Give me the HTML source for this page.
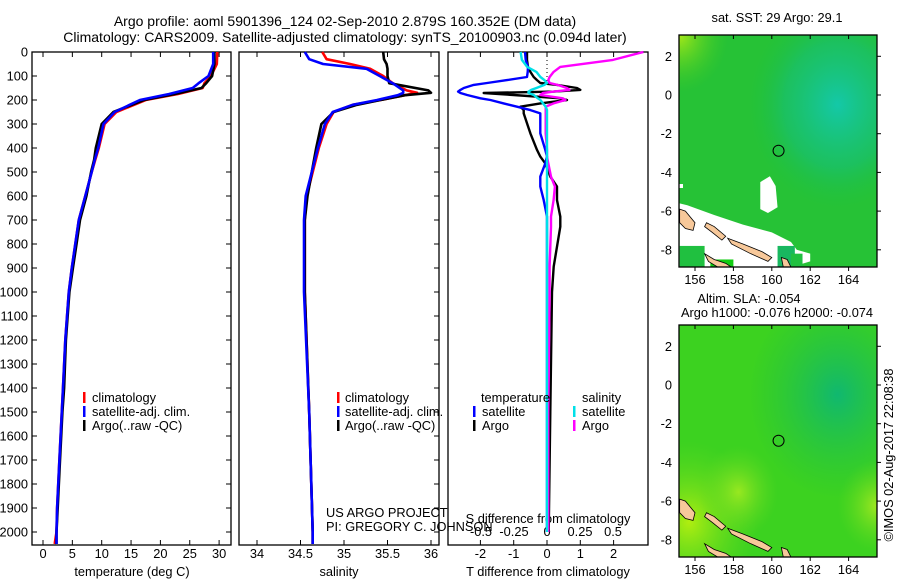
<!DOCTYPE html>
<html><head><meta charset="utf-8"><style>
body{margin:0;background:#fff;}
svg{display:block;font-family:"Liberation Sans",sans-serif;}
text{font-size:12.8px;fill:#000;}
</style></head><body>
<svg id="fig" width="900" height="580" viewBox="0 0 900 580">
<defs>
<radialGradient id="teal1" cx="0.8" cy="0.3" r="0.45"><stop offset="0" stop-color="#14c8a8"/><stop offset="0.6" stop-color="#18c070" stop-opacity="0.7"/><stop offset="1" stop-color="#1cc040" stop-opacity="0"/></radialGradient>
<radialGradient id="yel1" cx="0" cy="0" r="0.25"><stop offset="0" stop-color="#a8e818"/><stop offset="1" stop-color="#40cc20" stop-opacity="0"/></radialGradient>
<radialGradient id="teal2" cx="0.8" cy="0.3" r="0.45"><stop offset="0" stop-color="#10b870"/><stop offset="1" stop-color="#20c040" stop-opacity="0"/></radialGradient>
<radialGradient id="yel2" cx="0.05" cy="0.85" r="0.35"><stop offset="0" stop-color="#b0ee10"/><stop offset="1" stop-color="#60d820" stop-opacity="0"/></radialGradient>
<radialGradient id="yel3" cx="0.3" cy="0.72" r="0.2"><stop offset="0" stop-color="#98e820"/><stop offset="1" stop-color="#60d820" stop-opacity="0"/></radialGradient>
<radialGradient id="yel4" cx="1" cy="0.78" r="0.2"><stop offset="0" stop-color="#a0e820"/><stop offset="1" stop-color="#60d820" stop-opacity="0"/></radialGradient>
</defs>
<text x="345" y="26" text-anchor="middle" style="font-size:14px">Argo profile: aoml 5901396_124 02-Sep-2010 2.879S 160.352E (DM data)</text>
<text x="345" y="42" text-anchor="middle" style="font-size:14px">Climatology: CARS2009. Satellite-adjusted climatology: synTS_20100903.nc (0.094d later)</text>
<g id="plots"></g>
<g id="maps"></g>
</svg>
<script>
// ---- data ----
const depthTicks=[0,100,200,300,400,500,600,700,800,900,1000,1100,1200,1300,1400,1500,1600,1700,1800,1900,2000];
const tempTicks=[0,5,10,15,20,25,30];
const salTicks=[34,34.5,35,35.5,36];
const tdTicks=[-2,-1,0,1,2];
const sdTicks=[-0.5,-0.25,0,0.25,0.5];
const tDepth=[0,50,100,130,150,175,200,250,300,400,450,500,600,700,800,900,1000,1200,1400,1500,1700,1900,2000,2050];
const tClim=[29.7,29.6,28.6,27.5,27.2,23,17.5,12.5,10.5,9.5,8.9,8.3,7.2,6.1,5.5,4.9,4.4,3.8,3.4,3.2,2.8,2.4,2.3,2.0];
const tSat=[29.0,29.0,28.2,26.5,25.5,21.5,16.5,12.2,10.3,9.4,8.8,8.3,7.2,6.1,5.5,4.9,4.4,3.8,3.4,3.2,2.8,2.4,2.3,2.3];
const tArgo=[29.2,29.2,28.8,27.8,27.0,22.5,17.2,12.0,10.0,9.0,8.7,8.2,7.4,6.3,5.7,5.1,4.5,3.9,3.6,3.3,2.9,2.5,2.3,2.3];
const sDepth=[0,30,50,70,100,130,160,170,180,200,220,250,300,400,500,600,700,1000,1500,2000,2050];
const sClim=[34.75,34.8,35.07,35.3,35.45,35.56,35.72,35.84,35.7,35.42,35.1,34.88,34.8,34.71,34.64,34.57,34.55,34.55,34.6,34.64,34.64];
const sSat=[34.55,34.6,34.76,35.26,35.41,35.56,35.68,35.68,35.62,35.38,35.1,34.87,34.78,34.7,34.63,34.56,34.54,34.54,34.6,34.64,34.64];
const sArgo=[35.45,35.46,35.49,35.5,35.5,35.52,35.97,36.0,35.7,35.42,35.15,34.88,34.74,34.68,34.63,34.58,34.55,34.55,34.6,34.64,34.64];
const dDepth=[0,33,62,83,104,117,129,137,150,158,165,171,179,193,200,214,228,242,256,339,408,436,464,519,561,617,686,728,894,1000,1500,2000];
const dTsat=[-0.66,-0.64,-0.57,-0.58,-0.6,-1.2,-1.8,-2.2,-2.5,-2.6,-2.67,-2.6,-2.4,-2.0,-1.7,-1.3,-0.9,-0.5,-0.2,-0.2,-0.05,0,-0.05,-0.2,-0.2,-0.1,0,0,0,0,0,0];
const dTargo=[-0.6,-0.6,-0.57,-0.5,-0.4,-0.3,-0.2,0.3,0.9,1.0,0.2,-1.9,-1.0,0.4,0.6,-0.2,-0.8,-0.7,-0.7,-0.5,-0.3,-0.2,-0.05,0.1,0.3,0.3,0.4,0.4,0.2,0.15,0.1,0.05];
const dSsat=[-0.2,-0.19,-0.15,-0.08,-0.05,-0.02,0,-0.02,-0.08,-0.12,-0.14,-0.14,-0.1,-0.07,-0.05,-0.03,-0.01,0,0,0,0,0,0,0,0,0,0,0,0,0,0,0];
const dSargo=[0.73,0.5,0.1,0.05,0.02,0.01,0.02,0.08,0.15,0.17,0.05,-0.03,-0.05,0.12,0.14,0.05,-0.01,-0.01,-0.01,-0.01,0,0,0.01,0.03,0.06,0.05,0.03,0.03,0.02,0.02,0.01,0.01];
const lonTicks=[156,158,160,162,164];
const latTicks=[2,0,-2,-4,-6,-8];
const argoLon=160.352, argoLat=-2.879;

// ---- helpers ----
const NS='http://www.w3.org/2000/svg';
const plots=document.getElementById('plots');
const maps=document.getElementById('maps');
function mk(tag,attrs,parent){const e=document.createElementNS(NS,tag);for(const k in attrs)e.setAttribute(k,attrs[k]);parent.appendChild(e);return e;}
const Y0=52,Y1=545;
const yD=d=>52+d*0.24;
const xT=t=>43+t*5.87;
const xS=s=>257+(s-34)*87;
const xTd=v=>547+v*33.3;
const xSd=v=>547+v*132;

function frame(x,w,name){
  const r=mk('rect',{x:x,y:Y0,width:w,height:Y1-Y0,fill:'none',stroke:'#000','stroke-width':1.3},plots);
  
  
}
function line(xs,ds,fx,color,name,w){
  let p='';
  for(let i=0;i<xs.length;i++)p+=(i?'L':'M')+fx(xs[i]).toFixed(1)+' '+yD(ds[i]).toFixed(1);
  const e=mk('path',{d:p,fill:'none',stroke:color,'stroke-width':w||2.6,'stroke-linejoin':'round'},plots);
  
  
}
function txt(x,y,s,parent,anchor,name,extra){
  const e=mk('text',Object.assign({x:x,y:y,'text-anchor':anchor||'start'},extra||{}),parent);
  e.textContent=s;
  
  
  return e;
}
function xticks(vals,fx,labels,yLab,name){
  vals.forEach((v,i)=>{
    const x=fx(v);
    mk('line',{x1:x,x2:x,y1:Y0,y2:Y0+5,stroke:'#000'},plots);
    mk('line',{x1:x,x2:x,y1:Y1,y2:Y1-5,stroke:'#000'},plots);
    txt(x,yLab,labels[i],plots,'middle',name);
  });
}

// panel 1
frame(32,199,'temperature-panel');
depthTicks.forEach(d=>{
  const y=yD(d);
  mk('line',{x1:32,x2:37,y1:y,y2:y,stroke:'#000'},plots);
  mk('line',{x1:231,x2:226,y1:y,y2:y,stroke:'#000'},plots);
  txt(28,y+4.5,String(d),plots,'end','depth-tick-label');
});
xticks(tempTicks,xT,tempTicks.map(String),558,'temperature-tick-label');
txt(132,576,'temperature (deg C)',plots,'middle','temperature-axis-title');
line(tClim,tDepth,xT,'#ff0000','temperature-climatology-line');
line(tArgo,tDepth,xT,'#000000','temperature-argo-line');
line(tSat,tDepth,xT,'#0000ff','temperature-satellite-line');

// panel 2
frame(239,200,'salinity-panel');
depthTicks.forEach(d=>{const y=yD(d);mk('line',{x1:439,x2:434,y1:y,y2:y,stroke:'#000'},plots);});
xticks(salTicks,xS,['34','34.5','35','35.5','36'],558,'salinity-tick-label');
txt(339,576,'salinity',plots,'middle','salinity-axis-title');
line(sClim,sDepth,xS,'#ff0000','salinity-climatology-line');
line(sArgo,sDepth,xS,'#000000','salinity-argo-line');
line(sSat,sDepth,xS,'#0000ff','salinity-satellite-line');

// panel 3
frame(448,200,'difference-panel');
mk('line',{x1:547,x2:547,y1:52,y2:yD(150),stroke:'#000','stroke-dasharray':'1 3'},plots);
xticks(tdTicks,xTd,tdTicks.map(String),558,'t-difference-tick-label');
sdTicks.forEach((v,i)=>txt(xSd(v),536,['-0.5','-0.25','0','0.25','0.5'][i],plots,'middle','s-difference-tick-label'));
txt(548,523,'S difference from climatology',plots,'middle','s-difference-axis-title');
txt(548,576,'T difference from climatology',plots,'middle','t-difference-axis-title');
line(dTargo,dDepth,xTd,'#000000','t-diff-argo-line',2.4);
line(dTsat,dDepth,xTd,'#0000ff','t-diff-satellite-line',2.4);
line(dSargo,dDepth,xSd,'#ff00ff','s-diff-argo-line',2.4);
line(dSsat,dDepth,xSd,'#00e0e8','s-diff-satellite-line',2.4);

// legends
function legEntry(mx,tx,y,color,label,name){
  const m=mk('rect',{x:mx,y:y-10,width:2.5,height:11,fill:color},plots);
  
  
  txt(tx,y,label,plots,'start',name);
}
[[83,92],[337,345]].forEach((p,k)=>{
  legEntry(p[0],p[1],402,'#ff0000','climatology','legend-climatology');
  legEntry(p[0],p[1],416,'#0000ff','satellite-adj. clim.','legend-satellite');
  legEntry(p[0],p[1],430,'#000000','Argo(..raw -QC)','legend-argo');
});
txt(481,402,'temperature',plots,'start','legend-temperature-heading');
txt(582,402,'salinity',plots,'start','legend-salinity-heading');
legEntry(473,482,416,'#0000ff','satellite','legend-t-satellite');
legEntry(473,482,430,'#000000','Argo','legend-t-argo');
legEntry(573,582,416,'#00e0e8','satellite','legend-s-satellite');
legEntry(573,582,430,'#ff00ff','Argo','legend-s-argo');
txt(326,517,'US ARGO PROJECT',plots,'start','project-credit');
txt(326,531,'PI: GREGORY C. JOHNSON',plots,'start','pi-credit');

// ---- maps ----
const MX0=679,MW=198,MH=232;
const mxLon=l=>695+(l-156)*19.2;
function drawMap(top,zeroY,kind,name){
  const myLat=a=>zeroY-a*19.35;
  const g=mk('g',{},maps);
  
  
  const cid='clip'+kind;
  const cp=mk('clipPath',{id:cid},g);mk('rect',{x:MX0,y:top,width:MW,height:MH},cp);
  const inner=mk('g',{'clip-path':'url(#'+cid+')'},g);
  if(kind==='sst'){
    mk('rect',{x:MX0,y:top,width:MW,height:MH,fill:'#26c236'},inner);
    mk('rect',{x:MX0,y:top,width:MW,height:MH,fill:'url(#teal1)'},inner);
    mk('rect',{x:MX0,y:top,width:MW,height:MH,fill:'url(#yel1)'},inner);
    const white=[[155.2,-5.6],[155.6,-5.7],[157,-6.2],[158.5,-6.7],[160,-7.1],[161,-7.6],[161.3,-8.0],[162,-8.2],[162,-8.6],[161,-8.9],[155.2,-8.9]];
    mk('polygon',{points:white.map(p=>mxLon(p[0])+','+myLat(p[1])).join(' '),fill:'#fff'},inner);
    mk('rect',{x:MX0,y:myLat(-4.6),width:4,height:4,fill:'#fff'},inner);
    const wp=[[159.4,-4.5],[159.9,-4.2],[160.2,-4.7],[160.3,-5.8],[159.8,-6.1],[159.4,-5.9]];
    mk('polygon',{points:wp.map(p=>mxLon(p[0])+','+myLat(p[1])).join(' '),fill:'#fff'},inner);
    [[155.2,-7.8,1.3,1.2,'#20c040'],[156.8,-8.5,1.2,0.5,'#12cc12'],[160.3,-7.8,0.9,1.2,'#18b860'],[161,-8.2,0.6,0.7,'#20c040']].forEach(r=>{
      mk('rect',{x:mxLon(r[0]),y:myLat(r[1]),width:r[2]*19.2,height:r[3]*19.35,fill:r[4]},inner);
    });
  } else {
    mk('rect',{x:MX0,y:top,width:MW,height:MH,fill:'#3cd220'},inner);
    mk('rect',{x:MX0,y:top,width:MW,height:MH,fill:'url(#teal2)'},inner);
    mk('rect',{x:MX0,y:top,width:MW,height:MH,fill:'url(#yel2)'},inner);
    mk('rect',{x:MX0,y:top,width:MW,height:MH,fill:'url(#yel3)'},inner);
    mk('rect',{x:MX0,y:top,width:MW,height:MH,fill:'url(#yel4)'},inner);
  }
  const lands=[
    [[155.2,-5.9],[155.5,-6.0],[156.0,-6.6],[155.9,-7.0],[155.5,-6.9],[155.2,-6.6]],
    [[156.6,-6.6],[157.0,-6.8],[157.6,-7.3],[157.4,-7.5],[156.9,-7.1],[156.5,-6.8]],
    [[157.7,-7.4],[158.5,-7.7],[159.5,-8.1],[160.0,-8.4],[159.8,-8.6],[158.9,-8.2],[157.9,-7.7]],
    [[160.5,-8.4],[160.8,-8.5],[161.0,-8.9],[160.6,-8.9]],
    [[156.5,-8.2],[157.0,-8.5],[157.6,-8.7],[157.9,-8.9],[157.2,-8.9],[156.7,-8.6]]
  ];
  lands.forEach(l=>{
    const e=mk('polygon',{points:l.map(p=>mxLon(p[0])+','+myLat(p[1])).join(' '),fill:'#f7c89a',stroke:'#000','stroke-width':0.8},inner);
    
    
  });
  const c=mk('circle',{cx:mxLon(argoLon),cy:myLat(argoLat),r:5.5,fill:'none',stroke:'#000','stroke-width':1},g);
  
  
  mk('rect',{x:MX0,y:top,width:MW,height:MH,fill:'none',stroke:'#000','stroke-width':1.3},g);
  lonTicks.forEach(l=>{
    const x=mxLon(l);
    mk('line',{x1:x,x2:x,y1:top,y2:top+4,stroke:'#000'},g);
    mk('line',{x1:x,x2:x,y1:top+MH,y2:top+MH+4,stroke:'#000'},g);
    txt(x,top+MH+17,String(l),g,'middle','longitude-tick-label');
  });
  latTicks.forEach(a=>{
    const y=myLat(a);
    mk('line',{x1:MX0+MW,x2:MX0+MW+4,y1:y,y2:y,stroke:'#000'},g);
    txt(672,y+4.5,String(a),g,'end','latitude-tick-label');
  });
}
drawMap(35,95,'sst','sst-map');
drawMap(325,385,'sla','sla-map');
txt(777,22,'sat. SST: 29 Argo: 29.1',maps,'middle','sst-map-title');
txt(749,303,'Altim. SLA: -0.054',maps,'middle','sla-map-title');
txt(777,317,'Argo h1000: -0.076 h2000: -0.074',maps,'middle','argo-height-title');
txt(893,455,'©IMOS 02-Aug-2017 22:08:38',maps,'middle','timestamp-credit',{transform:'rotate(-90 893 455)'});
</script>
</body></html>
